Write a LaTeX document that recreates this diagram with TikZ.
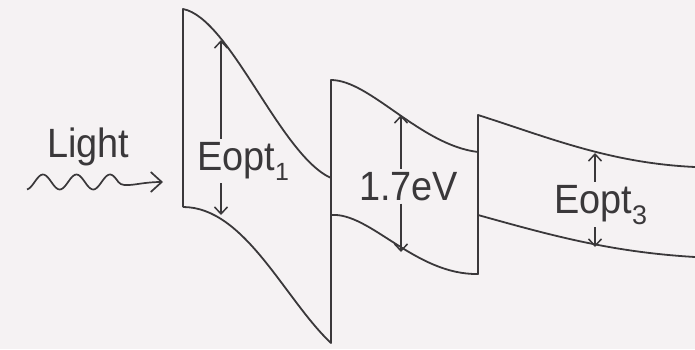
\documentclass[tikz,border=0pt]{standalone}
\usepackage{fontspec}
\setmainfont{Liberation Sans}
\usetikzlibrary{arrows.meta}
\definecolor{bg}{RGB}{245,242,243}
\definecolor{ink}{RGB}{58,56,58}
\begin{document}
\begin{tikzpicture}[x=1bp,y=-1bp,
  band/.style={draw=ink, line width=1.8bp, line join=round},
  gaptip/.style={draw=ink, line width=1.5bp, -{Straight Barb[length=7bp,width=13bp]}},
  wavetip/.style={draw=ink, line width=1.7bp, -{Straight Barb[length=11bp,width=20bp]}},
  lbl/.style={text=ink, font=\fontsize{38}{40}\selectfont, inner xsep=0pt, inner ysep=3bp, anchor=base west},
  ]
\fill[bg] (0,0) rectangle (695,349);
\useasboundingbox (0,0) rectangle (695,349);
% bands
\draw[band] (183,207) -- (183,9) .. controls (230,18) and (280,155) .. (331,178);
\draw[band] (183,207) .. controls (245,207) and (285,300) .. (331,343) -- (331,80) .. controls (370,80) and (420,145) .. (478,152);
\draw[band] (331,215) .. controls (370,212) and (415,275) .. (478,274) -- (478,115) .. controls (550,138) and (610,163) .. (695,167);
\draw[band] (478,215) .. controls (550,235) and (610,252) .. (695,257);
% labels
\node[lbl] (light) at (47,157) {\scalebox{1}[1.08]{Light}};
\node[lbl] (t1) at (197,170) {\scalebox{1}[1.08]{Eopt}\raisebox{-10bp}{\fontsize{25}{25}\selectfont 1}};
\node[lbl] (t2) at (359,200) {\scalebox{1}[1.08]{1.7eV}};
\node[lbl] (t3) at (554,213) {\scalebox{1}[1.08]{Eopt}\raisebox{-11bp}{\fontsize{27}{27}\selectfont 3}};
% gap arrows
\coordinate (a1t) at (221,40);  \coordinate (a1b) at (221,215);
\coordinate (a2t) at (401,115); \coordinate (a2b) at (401,252);
\coordinate (a3t) at (595,153); \coordinate (a3b) at (595,247);
\draw[gaptip] (a1t |- t1.north) -- (a1t);
\draw[gaptip] (a1b |- t1.south) -- (a1b);
\draw[gaptip] (a2t |- t2.north) -- (a2t);
\draw[gaptip] (a2b |- t2.south) -- (a2b);
\draw[gaptip] (a3t |- t3.north) -- (a3t);
\draw[gaptip] (a3b |- t3.south) -- (a3b);
% light wave
\coordinate (wtip) at (163,182);
\draw[wavetip] plot[domain=27:118.4, samples=60, smooth] (\x, {182 - 7.5*sin(10.746*(\x-34.6))}) .. controls (124,189) and (138,182) .. (wtip);
\end{tikzpicture}
\end{document}
